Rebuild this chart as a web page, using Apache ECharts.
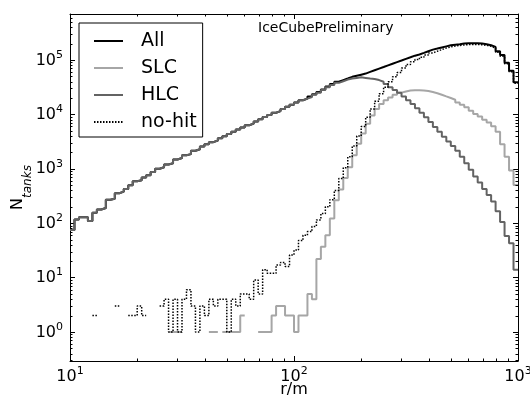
<!DOCTYPE html>
<html>
<head>
<meta charset="utf-8">
<script src="https://cdn.jsdelivr.net/npm/echarts@6/dist/echarts.min.js"></script>
<style>
  html, body { margin: 0; padding: 0; background: #fff; }
  #chart { width: 530px; height: 401px; }
</style>
</head>
<body>
<div id="chart"></div>
<script>
// histogram of tank distance r (m), log bins: 50 per decade from 10 m to 1000 m
const logRMin = 1
const logRMax = 3
const nBins = 100
const binEdges = []
for (let i = 0; i <= nBins; i++) {
  binEdges.push(Math.pow(10, logRMin + (logRMax - logRMin) * i / nBins))
}

const seriesNames = ['All', 'SLC', 'HLC', 'no-hit']

// counts per bin (null = empty bin)
const allCounts = [
  75, 117, 129, 128, 110, 155, 178, 190, 270, 282,
  355, 380, 427, 500, 590, 617, 692, 759, 871, 1000,
  1070, 1200, 1260, 1480, 1580, 1780, 1860, 2140, 2290, 2570,
  2820, 3090, 3310, 3630, 3980, 4370, 4790, 5250, 5750, 6310,
  6760, 7410, 8130, 8910, 9770, 10700, 11500, 12600, 13800, 15100,
  16600, 18200, 19500, 21400, 23400, 25700, 28800, 32400, 36300, 39800,
  42700, 45700, 49000, 51300, 53700, 56200, 60300, 64600, 69200, 74100,
  79400, 85100, 91200, 97700, 105000, 112000, 120000, 126000, 135000, 145000,
  155000, 162000, 170000, 178000, 186000, 191000, 195000, 200000, 204000, 204000,
  204000, 200000, 195000, 186000, 174000, 145000, 123000, 89100, 63100, 38900
]

const slcCounts = [
  null, null, null, null, null, null, null, null, null, null,
  null, null, null, null, null, null, null, null, null, null,
  null, null, 1, 1, 1, null, null, null, null, null,
  null, 1, 1, null, 1, 1, 1, 1, 2, null,
  null, null, 1, 1, 1, 2, 3, 3, 2, 2,
  1, 2, 2, 5, 4, 22, 37, 60, 122, 263,
  417, 676, 1070, 1780, 2880, 4470, 6760, 9550, 12600, 15500,
  18200, 20400, 22900, 25100, 26300, 27500, 27800, 27800, 27500, 26900,
  25700, 24500, 22900, 21400, 20000, 18600, 16600, 15100, 13500, 11700,
  10200, 9120, 7940, 7080, 6030, 4790, 2820, 1660, 933, 501
]

const hlcCounts = [
  75, 117, 129, 128, 110, 155, 178, 190, 270, 282,
  355, 380, 427, 500, 590, 617, 692, 759, 871, 1000,
  1070, 1200, 1260, 1480, 1580, 1780, 1860, 2140, 2290, 2570,
  2820, 3090, 3310, 3630, 3980, 4370, 4790, 5250, 5750, 6310,
  6760, 7410, 8130, 8910, 9770, 10700, 11500, 12600, 13800, 15100,
  16600, 18200, 19500, 20900, 22900, 25100, 28200, 31600, 34700, 38000,
  40700, 43600, 45700, 46800, 47900, 46800, 45700, 44700, 42700, 39800,
  36300, 31600, 28200, 25100, 21400, 18200, 15500, 12900, 10700, 8900,
  7240, 5890, 4790, 3890, 3160, 2630, 2140, 1660, 1260, 955,
  724, 562, 427, 331, 251, 166, 105, 58, 43, 14
]

const noHitCounts = [
  null, null, null, null, null, 2, null, null, null, null,
  3, null, null, 2, 2, 3, 2, null, null, null,
  3, 4, 1, 4, 1, 4, 6, 3, 1, 3,
  2, 4, 3, 4, 4, 1, 4, 3, 5, 5,
  4, 9, 5, 14, 12, 12, 17, 19, 16, 26,
  32, 48, 60, 70, 87, 115, 150, 200, 270, 400,
  660, 1050, 1660, 2630, 4000, 6000, 8900, 12600, 17400, 24000,
  31600, 39800, 49000, 59000, 71000, 83000, 93000, 102000, 112000, 123000,
  135000, 145000, 155000, 166000, 174000, 180000, 185000, 189000, 192000, 193000,
  193000, 190000, 186000, 178000, 166000, 138000, 117000, 85000, 61000, 37500
]

// axis ranges and tick positions
const xMin = 10
const xMax = 1000
const yMin = 0.293
const yMax = 7.0e5
const xMinorTicks = [20, 30, 40, 50, 60, 70, 80, 90, 200, 300, 400, 500, 600, 700, 800, 900]
const yMinorTicks = [
  0.3, 0.4, 0.5, 0.6, 0.7, 0.8, 0.9,
  2, 3, 4, 5, 6, 7, 8, 9,
  20, 30, 40, 50, 60, 70, 80, 90,
  200, 300, 400, 500, 600, 700, 800, 900,
  2000, 3000, 4000, 5000, 6000, 7000, 8000, 9000,
  20000, 30000, 40000, 50000, 60000, 70000, 80000, 90000,
  200000, 300000, 400000, 500000, 600000, 700000
]

const FONT = 'DejaVu Sans'

// each bin becomes a flat segment, empty bins break the line
function stepData(counts) {
  const pts = []
  counts.forEach((c, i) => {
    if (c == null) {
      pts.push([binEdges[i], '-'])
    } else {
      pts.push([binEdges[i], c], [binEdges[i + 1], c])
    }
  })
  return pts
}

function powLabel(v) {
  const e = Math.log10(v)
  const n = Math.round(e)
  if (Math.abs(e - n) > 1e-6) return ''
  return '{b|10}{s|' + n + '}'
}

const tickRich = {
  b: {fontFamily: FONT, fontSize: 16, lineHeight: 17, color: '#000', verticalAlign: 'bottom'},
  s: {fontFamily: FONT, fontSize: 11, lineHeight: 11, color: '#000', verticalAlign: 'bottom', padding: [0, 0, 8, 0]}
}

function logAxis(extra) {
  return Object.assign({
    type: 'log',
    logBase: 10,
    axisLine: {show: true, lineStyle: {color: '#000', width: 1}},
    axisTick: {show: true, inside: true, length: 5, lineStyle: {color: '#000'}},
    splitLine: {show: false},
    nameMoveOverlap: false
  }, extra)
}

const chart = echarts.init(document.getElementById('chart'), null, {renderer: 'canvas'})

chart.setOption({
  animation: false,
  backgroundColor: '#fff',
  grid: {left: 70, right: 12, top: 14, bottom: 40, containLabel: false, outerBoundsMode: 'none'},
  legend: {
    data: seriesNames,
    orient: 'vertical',
    left: 79,
    top: 23,
    padding: [7, 6, 4, 14],
    itemGap: 5,
    itemWidth: 29,
    itemHeight: 14,
    borderColor: '#000',
    borderWidth: 1,
    borderRadius: 0,
    backgroundColor: '#fff',
    selectedMode: false,
    itemStyle: {opacity: 0},
    textStyle: {fontFamily: FONT, fontSize: 19, color: '#000', lineHeight: 22, padding: [0, 0, 0, 13]}
  },
  graphic: [{
    type: 'text',
    left: 258,
    top: 21,
    style: {text: 'IceCubePreliminary', font: '14px "DejaVu Sans"', fill: '#000'}
  }],
  xAxis: [
    logAxis({
      min: xMin, max: xMax, position: 'bottom',
      name: 'r/m', nameLocation: 'middle', nameGap: 21,
      nameTextStyle: {fontFamily: FONT, fontSize: 16, color: '#000'},
      axisLabel: {margin: 7, formatter: powLabel, rich: tickRich, showMinLabel: true, showMaxLabel: true}
    }),
    logAxis({min: xMin, max: xMax, position: 'top', axisLabel: {show: false}})
  ],
  yAxis: [
    logAxis({
      min: yMin, max: yMax, position: 'left',
      name: '{n|N}{t|tanks}', nameLocation: 'middle', nameRotate: 90, nameGap: 36,
      nameTextStyle: {
        rich: {
          n: {fontFamily: FONT, fontSize: 16, lineHeight: 17, color: '#000', verticalAlign: 'bottom', padding: [0, 0, 8, 0]},
          t: {fontFamily: FONT, fontSize: 12, lineHeight: 12, fontStyle: 'italic', color: '#000', verticalAlign: 'bottom'}
        }
      },
      axisLabel: {margin: 7, formatter: powLabel, rich: tickRich, showMinLabel: false, showMaxLabel: false}
    }),
    logAxis({min: yMin, max: yMax, position: 'right', axisLabel: {show: false}})
  ],
  series: [
    {
      name: 'All', type: 'line', data: stepData(allCounts),
      showSymbol: false, symbol: 'none', connectNulls: false,
      lineStyle: {color: '#000', width: 2}, itemStyle: {color: '#000'}
    },
    {
      name: 'SLC', type: 'line', data: stepData(slcCounts),
      showSymbol: false, symbol: 'none', connectNulls: false,
      lineStyle: {color: '#a6a6a6', width: 2}, itemStyle: {color: '#a6a6a6'}
    },
    {
      name: 'HLC', type: 'line', data: stepData(hlcCounts),
      showSymbol: false, symbol: 'none', connectNulls: false,
      lineStyle: {color: '#636363', width: 2}, itemStyle: {color: '#636363'}
    },
    {
      name: 'no-hit', type: 'line', data: stepData(noHitCounts),
      showSymbol: false, symbol: 'none', connectNulls: false,
      lineStyle: {color: '#000', width: 1.5, type: [1.5, 1.5]}, itemStyle: {color: '#000'}
    },
    {
      // minor ticks on all four sides, like the log axes of the original
      name: 'minor', type: 'custom', coordinateSystem: 'cartesian2d',
      silent: true, clip: false, z: 5,
      data: xMinorTicks.map(v => [v, 1, 0]).concat(yMinorTicks.map(v => [xMin, v, 1])),
      renderItem(params, api) {
        const cs = params.coordSys
        const style = {stroke: '#000', lineWidth: 1}
        const len = 2.5
        if (api.value(2) === 0) {
          const x = Math.round(api.coord([api.value(0), 1])[0]) + 0.5
          const yb = cs.y + cs.height
          return {type: 'group', children: [
            {type: 'line', shape: {x1: x, y1: yb, x2: x, y2: yb - len}, style},
            {type: 'line', shape: {x1: x, y1: cs.y, x2: x, y2: cs.y + len}, style}
          ]}
        }
        const y = Math.round(api.coord([xMin, api.value(1)])[1]) + 0.5
        const xr = cs.x + cs.width
        return {type: 'group', children: [
          {type: 'line', shape: {x1: cs.x, y1: y, x2: cs.x + len, y2: y}, style},
          {type: 'line', shape: {x1: xr, y1: y, x2: xr - len, y2: y}, style}
        ]}
      }
    }
  ]
})
</script>
</body>
</html>
